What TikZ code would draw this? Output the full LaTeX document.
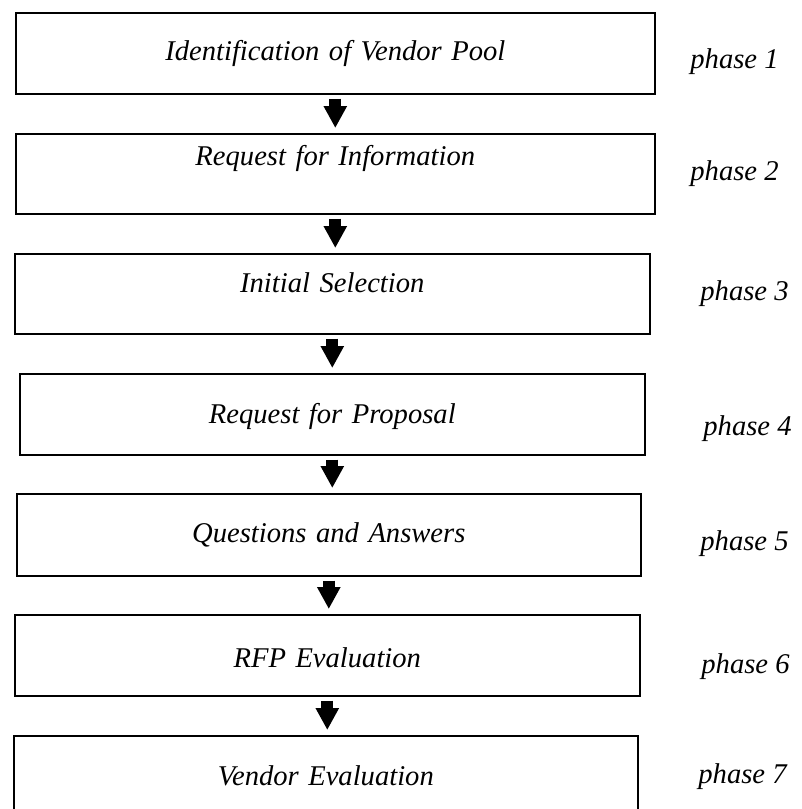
\documentclass[tikz,border=0pt]{standalone}
\usepackage{fontspec}
\setmainfont{Liberation Serif}
\usepackage{tikz}
\usetikzlibrary{arrows.meta, positioning}

\begin{document}
\begin{tikzpicture}[x=0.5pt, y=-0.5pt,
    phasebox/.style={draw=black, line width=0.8pt, inner sep=0pt, anchor=north west, align=center,
      font=\fontsize{14.3}{17}\selectfont\itshape},
    phasetag/.style={anchor=base west, inner sep=0pt, font=\fontsize{14.3}{17}\selectfont\itshape},
    steparrow/.style={-{Triangle[width=11pt, length=11pt]}, line width=6pt, shorten <=2pt, shorten >=2.5pt}]
    \useasboundingbox (0,0) rectangle (802,809);

    \node[phasebox, text width=319.5pt, text height=24pt, text depth=16.5pt] (b1) at (15,12) {Identification of Vendor Pool};
    \node[phasebox, text width=319.5pt, text height=16pt, text depth=24pt] (b2) at (15,133) {Request for Information};
    \node[phasebox, text width=317.5pt, text height=19.5pt, text depth=20.5pt] (b3) at (14,253) {Initial Selection};
    \node[phasebox, text width=312.5pt, text height=25pt, text depth=15.5pt] (b4) at (19,373) {Request for Proposal};
    \node[phasebox, text width=312pt, text height=24.5pt, text depth=16.5pt] (b5) at (16,493) {Questions and Answers};
    \node[phasebox, text width=312.5pt, text height=26.5pt, text depth=14pt] (b6) at (14,614) {RFP Evaluation};
    \node[phasebox, text width=312pt, text height=25pt, text depth=15.5pt] (b7) at (13,735) {Vendor Evaluation};

    \node[phasetag] (p1) at (690,68) {phase 1};
    \node[phasetag] (p2) at (690,180) {phase 2};
    \node[phasetag] (p3) at (700,300) {phase 3};
    \node[phasetag] (p4) at (703,435) {phase 4};
    \node[phasetag] (p5) at (700,550) {phase 5};
    \node[phasetag] (p6) at (701,673) {phase 6};
    \node[phasetag] (p7) at (698,783) {phase 7};

    \foreach \a/\b in {b1/b2, b2/b3, b3/b4, b4/b5, b5/b6, b6/b7}
      \draw[steparrow] (\a.south) -- (\a.south |- \b.north);
  \end{tikzpicture}
\end{document}
